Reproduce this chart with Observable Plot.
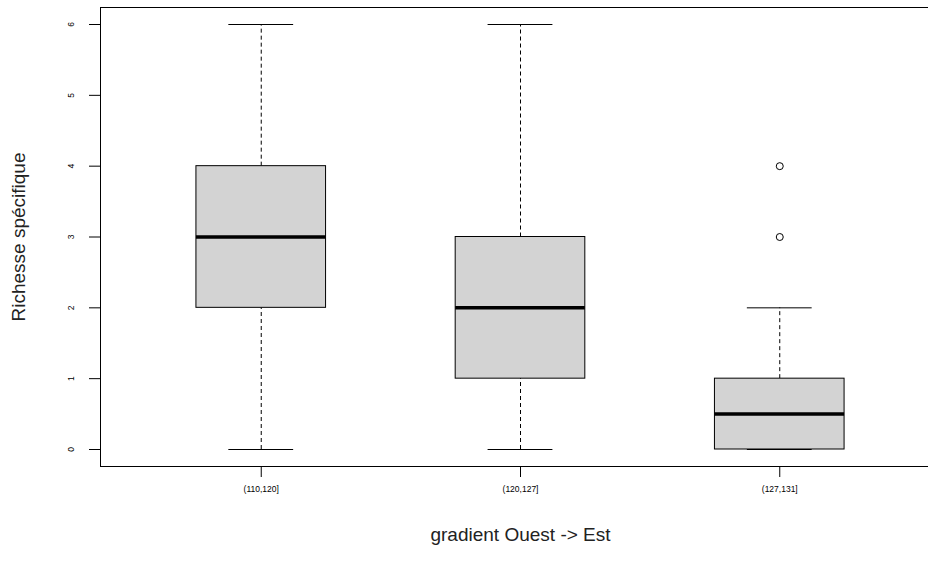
<!DOCTYPE html>
<html><head><meta charset="utf-8">
<script src="https://cdn.jsdelivr.net/npm/d3@7"></script>
<script src="https://cdn.jsdelivr.net/npm/@observablehq/plot@0.6"></script>
<style>html,body{margin:0;background:#fff;overflow:hidden;width:928px}</style>
</head><body><div id="chart"></div>
<script>
const categories = ["(110,120]", "(120,127]", "(127,131]"];
const lowerWhisker = [0, 0, 0];
const q1 = [2, 1, 0];
const median = [3, 2, 0.5];
const q3 = [4, 3, 1];
const upperWhisker = [6, 6, 2];
const outlierGroup = [2, 2];
const outlierValue = [3, 4];
const yTicks = [0, 1, 2, 3, 4, 5, 6];
const xTitle = "gradient Ouest -> Est";
const yTitle = "Richesse spécifique";

const xDomain = [0.38, 3.62];
const yDomain = [-0.24, 6.24];
const boxes = categories.map((c, i) => ({pos: i + 1, label: c, lo: lowerWhisker[i], q1: q1[i], med: median[i], q3: q3[i], hi: upperWhisker[i]}));
const outliers = outlierValue.map((v, j) => ({pos: outlierGroup[j] + 1, value: v}));
const half = 0.25, cap = 0.125;
const font = "Liberation Sans, Arial, Helvetica, sans-serif";

const chart = Plot.plot({
  width: 960, height: 562,
  marginLeft: 100, marginTop: 7, marginBottom: 96, marginRight: 20,
  style: {fontFamily: font, background: "#fff", maxWidth: "none"},
  x: {type: "linear", domain: xDomain, axis: null},
  y: {domain: yDomain, axis: null},
  marks: [
    Plot.ruleX(boxes, {x: "pos", y1: "q3", y2: "hi", stroke: "#000", strokeWidth: 1, strokeDasharray: "4,3"}),
    Plot.ruleX(boxes, {x: "pos", y1: "lo", y2: "q1", stroke: "#000", strokeWidth: 1, strokeDasharray: "4,3"}),
    Plot.ruleY(boxes, {y: "hi", x1: d => d.pos - cap, x2: d => d.pos + cap, stroke: "#000", strokeWidth: 1}),
    Plot.ruleY(boxes, {y: "lo", x1: d => d.pos - cap, x2: d => d.pos + cap, stroke: "#000", strokeWidth: 1}),
    Plot.rect(boxes, {x1: d => d.pos - half, x2: d => d.pos + half, y1: "q1", y2: "q3", fill: "#d3d3d3", stroke: "#000", strokeWidth: 1}),
    Plot.ruleY(boxes, {y: "med", x1: d => d.pos - half, x2: d => d.pos + half, stroke: "#000", strokeWidth: 3.5}),
    Plot.dot(outliers, {x: "pos", y: "value", r: 3.5, stroke: "#000", strokeWidth: 1, fill: "none"}),
    Plot.frame({stroke: "#000", strokeWidth: 1}),
    Plot.axisY({ticks: yTicks, tickFormat: d3.format("d"), tickSize: 11, tickPadding: 16, tickRotate: -90, fontSize: 8.5, label: null, anchor: "left", color: "#000"}),
    Plot.axisX({ticks: [1, 2, 3], tickFormat: d => categories[d - 1], tickSize: 11, tickPadding: 8, fontSize: 8.5, label: null, anchor: "bottom", color: "#000"}),
    Plot.text([yTitle], {frameAnchor: "left", dx: -82, rotate: -90, textAnchor: "middle", fontSize: 19, fill: "#222"}),
    Plot.text([xTitle], {frameAnchor: "bottom", dy: 74, fontSize: 19, fill: "#222"})
  ]
});
document.getElementById("chart").append(chart);
</script>
</body></html>
